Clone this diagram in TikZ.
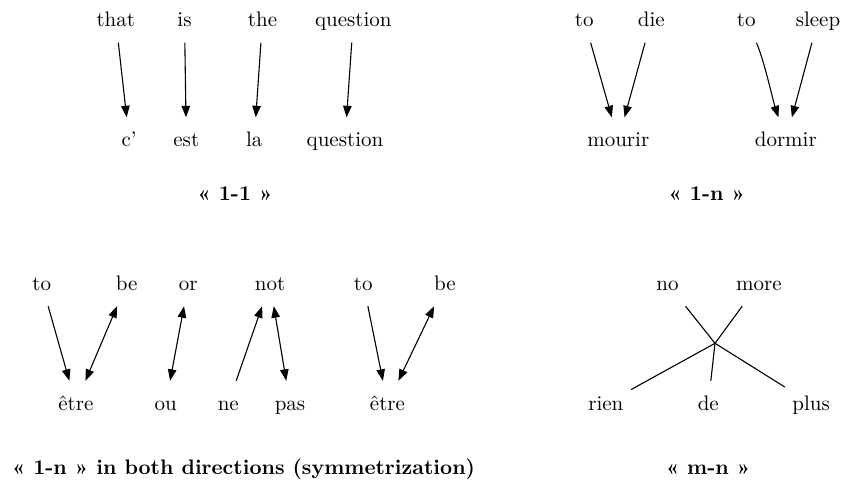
\documentclass[tikz,border=0pt]{standalone}
\usepackage{fontspec}
\setmainfont{lmroman10-regular.otf}[BoldFont=lmroman10-bold.otf]
\usetikzlibrary{arrows.meta}
\begin{document}
\begin{tikzpicture}[x=1pt,y=-1pt,
  wd/.style={rectangle, inner xsep=7.5pt, inner ysep=0pt, minimum height=45pt,
    text height=14pt, text depth=1pt, font=\fontsize{21}{25}\selectfont},
  lbl/.style={inner sep=0pt, font=\fontsize{21}{25}\selectfont\bfseries},
  arr/.style={draw, line width=1.1pt, -{Triangle[length=11.5pt,width=8.5pt]}},
  bi/.style={draw, line width=1.1pt, {Triangle[length=11.5pt,width=8.5pt]}-{Triangle[length=11.5pt,width=8.5pt]}},
  ln/.style={draw, line width=1.1pt}]
\useasboundingbox (0,0) rectangle (842,480);
% ---- 1-1
\node[wd] (that) at (115.8,20) {that};
\node[wd] (is) at (184.5,20) {is};
\node[wd] (the) at (262.5,20) {the};
\node[wd] (q1) at (353.3,20) {question};
\node[wd] (c) at (129.2,140) {c’};
\node[wd] (est) at (186.3,140) {est};
\node[wd] (la) at (254.2,140) {la};
\node[wd] (q2) at (345,140) {question};
\draw[arr] (that) -- (c);
\draw[arr] (is) -- (est);
\draw[arr] (the) -- (la);
\draw[arr] (q1) -- (q2);
\node[lbl, anchor=base] (l11) at (235,200) {« 1-1 »};
% ---- 1-n
\node[wd] (to1) at (584.2,20) {to};
\node[wd] (die) at (651.3,20) {die};
\node[wd] (to2) at (746.3,20) {to};
\node[wd] (sleep) at (818,20) {sleep};
\node[wd] (mourir) at (618.3,140) {mourir};
\node[wd] (dormir) at (785.8,140) {dormir};
\draw[arr] (to1) -- (mourir);
\draw[arr] (die) -- (mourir);
\draw[arr] (to2) .. controls +(17.8,40) and +(-13,-40) .. (dormir);
\draw[arr] (sleep) -- (dormir);
\node[lbl, anchor=base] (l1n) at (706.7,200) {« 1-n »};
% ---- symmetrization
\node[wd] (to3) at (41.7,283.5) {to};
\node[wd] (be1) at (126.7,283.5) {be};
\node[wd] (or) at (188.3,283.5) {or};
\node[wd] (not) at (270,283.5) {not};
\node[wd] (to4) at (363.3,283.5) {to};
\node[wd] (be2) at (445,283.5) {be};
\node[wd] (etre1) at (75.8,403.5) {être};
\node[wd] (ou) at (165.8,403.5) {ou};
\node[wd] (ne) at (228.3,403.5) {ne};
\node[wd] (pas) at (290,403.5) {pas};
\node[wd] (etre2) at (387.5,403.5) {être};
\draw[arr] (to3) -- (etre1);
\draw[bi] (be1) -- (etre1);
\draw[bi] (or) -- (ou);
\draw[arr] (ne) -- (not);
\draw[bi] (not) -- (pas);
\draw[arr] (to4) -- (etre2);
\draw[bi] (be2) -- (etre2);
\node[lbl, anchor=base west] (lsym) at (11.7,474) {« 1-n » in both directions (symmetrization)};
% ---- m-n
\node[wd] (no) at (667.5,283.5) {no};
\node[wd] (more) at (758.8,283.5) {more};
\node[wd] (rien) at (605.8,403.5) {rien};
\node[wd] (de) at (708.3,403.5) {de};
\node[wd] (plus) at (811.2,403.5) {plus};
\coordinate (hub) at (715,343.3);
\draw[ln] (no) -- (hub);
\draw[ln] (more) -- (hub);
\draw[ln] (hub) -- (rien);
\draw[ln] (hub) -- (de);
\draw[ln] (hub) -- (plus);
\node[lbl, anchor=base] (lmn) at (708,474) {« m-n »};
\end{tikzpicture}
\end{document}
